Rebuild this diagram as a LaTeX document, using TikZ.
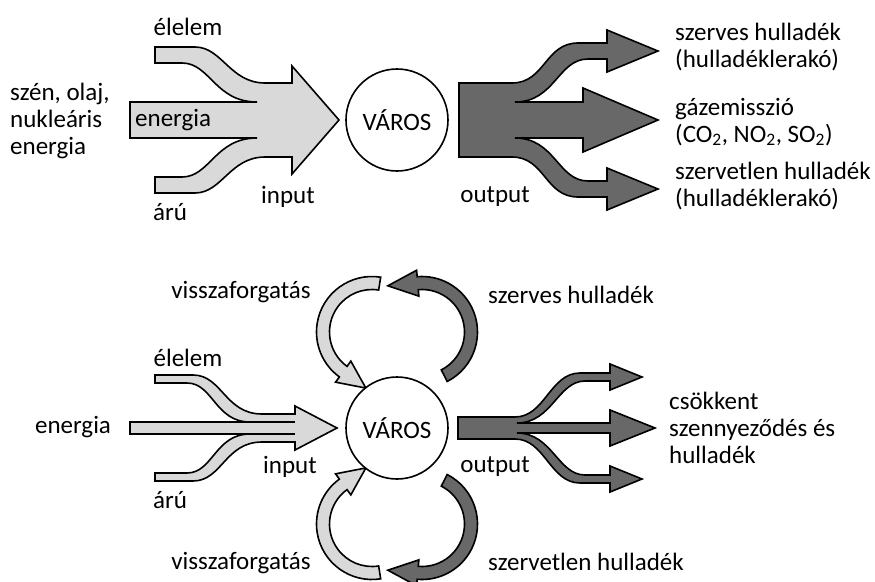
\documentclass[tikz,border=0pt]{standalone}
\usepackage{fontspec}
\setmainfont{Carlito}
\definecolor{lightfill}{RGB}{217,217,217}
\definecolor{darkfill}{RGB}{104,104,104}
\tikzset{
  lightshape/.style={draw=black, fill=lightfill, line width=1.6pt},
  darkshape/.style={draw=black, fill=darkfill, line width=1.6pt},
  innerline/.style={draw=black, line width=1.6pt},
  city/.style={draw=black, fill=white, circle, line width=1.6pt, minimum size=102pt, inner sep=0pt, font=\fontsize{25}{27}\selectfont},
  lbl/.style={inner sep=0pt, font=\fontsize{25}{27}\selectfont},
  lbll/.style={lbl, align=left, anchor=west},
}
\begin{document}
\begin{tikzpicture}[x=1pt,y=-1pt]
\useasboundingbox (0,0) rectangle (875,581);

% ================= TOP DIAGRAM =================
% input arrow
\draw[lightshape] (155,47) -- (195,47) .. controls (222,47) and (230,83) .. (265,83) -- (292,83)
  -- (292,66) -- (339,120) -- (292,174) -- (292,157) -- (265,157)
  .. controls (230,157) and (222,193) .. (195,193) -- (155,193) -- (155,177) -- (182,177)
  .. controls (210,177) and (215,138) .. (257,138) -- (130,138) -- (130,102) -- (257,102)
  .. controls (215,102) and (210,63) .. (182,63) -- (155,63) -- cycle;

% output arrow
\draw[darkshape] (459,83) -- (512,83) .. controls (545,83) and (545,43) .. (578,43) -- (607,43)
  -- (607,30) -- (658,51) -- (607,72) -- (607,59) -- (588,59)
  .. controls (558,59) and (555,102) .. (515,102) -- (583,102) -- (583,88) -- (658,120)
  -- (583,152) -- (583,138) -- (515,138) .. controls (555,138) and (558,181) .. (588,181)
  -- (607,181) -- (607,168) -- (658,189) -- (607,210) -- (607,197) -- (578,197)
  .. controls (545,197) and (545,157) .. (512,157) -- (459,157) -- cycle;

\node[city] (varos1) at (397,120) {VÁROS};

\node[lbl] (elelem1) at (188,27) {élelem};
\node[lbll] (fossil) at (10,121) {szén, olaj,\\nukleáris\\energia};
\node[lbll] (energia1) at (135,120) {energia};
\node[lbl] (aru1) at (170,212) {árú};
\node[lbl] (input1) at (288,197) {input};
\node[lbl] (output1) at (495,197) {output};
\node[lbll] (szerves1) at (675,47) {szerves hulladék\\(hulladéklerakó)};
\node[lbll] (gaz) at (675,122) {gázemisszió\\(CO\textsubscript{2}, NO\textsubscript{2}, SO\textsubscript{2})};
\node[lbll] (szervetlen1) at (675,186) {szervetlen hulladék\\(hulladéklerakó)};

% ================= BOTTOM DIAGRAM =================
% input arrow
\draw[lightshape] (155,375) -- (193,375) .. controls (222,375) and (225,414) .. (262,414) -- (295,414)
  -- (295,406) -- (337,428) -- (295,450) -- (295,442) -- (262,442)
  .. controls (225,442) and (222,481) .. (193,481) -- (155,481) -- (155,473) -- (187,473)
  .. controls (213,473) and (215,434) .. (250,434) -- (130,434) -- (130,422) -- (250,422)
  .. controls (215,422) and (213,383) .. (187,383) -- (155,383) -- cycle;
\draw[innerline] (250,422) -- (295,422);
\draw[innerline] (250,434) -- (295,434);

% output arrow
\draw[darkshape] (458,417) -- (515,417) .. controls (545,417) and (550,373) .. (580,373) -- (610,373)
  -- (610,364) -- (642,377) -- (610,390) -- (610,381) -- (585,381)
  .. controls (558,381) and (552,423) .. (517,423) -- (610,423) -- (610,410) -- (655,428)
  -- (610,446) -- (610,433) -- (517,433) .. controls (552,433) and (558,475) .. (585,475)
  -- (610,475) -- (610,466) -- (642,479) -- (610,492) -- (610,483) -- (580,483)
  .. controls (550,483) and (545,439) .. (515,439) -- (458,439) -- cycle;

% recycling loops (upper, then mirrored lower)
\foreach \ys in {1,-1}{
\begin{scope}[shift={(397,428)}, yscale=\ys]
  \begin{scope}[shift={(-25,-96)}]
    \draw[lightshape] (279:55.5) arc[start angle=279, end angle=126, radius=55.5]
      -- (126:62) -- (96.26:56.4) -- (126:36) -- (126:42.5)
      arc[start angle=126, end angle=279, radius=42.5] -- cycle;
  \end{scope}
  \begin{scope}[shift={(25,-96)}]
    \draw[darkshape] (63:55.5) arc[start angle=63, end angle=-95, radius=55.5]
      -- (-95:62) -- (-126.48:57.46) -- (-95:36) -- (-95:42.5)
      arc[start angle=-95, end angle=63, radius=42.5] -- cycle;
  \end{scope}
\end{scope}
}

\node[city] (varos2) at (397,428) {VÁROS};

\node[lbl] (vissza1) at (241,292) {visszaforgatás};
\node[lbl] (vissza2) at (241,563) {visszaforgatás};
\node[lbl, anchor=west] (szerves2) at (488,295) {szerves hulladék};
\node[lbl, anchor=west] (szervetlen2) at (488,562) {szervetlen hulladék};
\node[lbl] (elelem2) at (188,358) {élelem};
\node[lbl] (energia2) at (73,427) {energia};
\node[lbl] (aru2) at (170,500) {árú};
\node[lbl] (input2) at (290,467) {input};
\node[lbl] (output2) at (495,467) {output};
\node[lbll] (csokkent) at (669,428) {csökkent\\szennyeződés és\\hulladék};
\end{tikzpicture}
\end{document}
